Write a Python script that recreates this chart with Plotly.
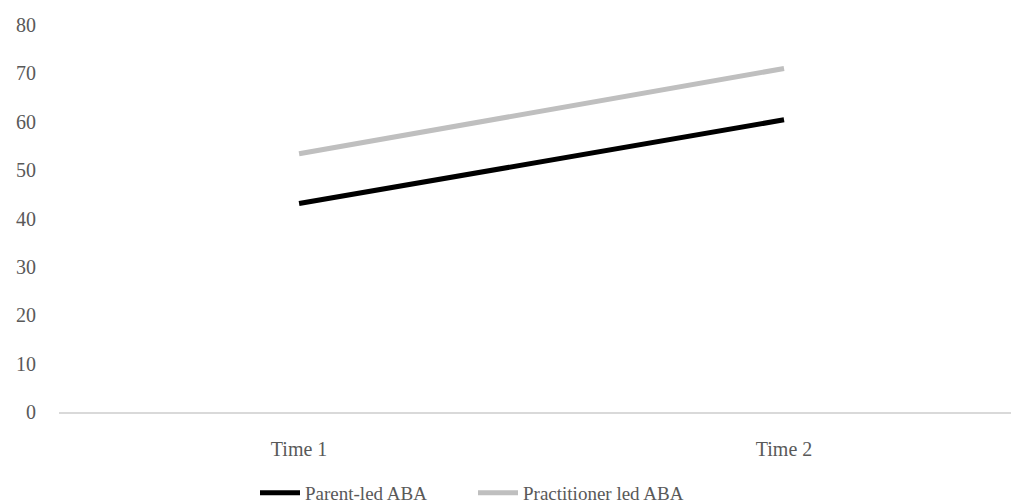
import plotly.graph_objects as go

# Scores at the two measurement points
times = ["Time 1", "Time 2"]
parent_led = [43.1, 60.4]
practitioner_led = [53.4, 71.0]

y_ticks = [0, 10, 20, 30, 40, 50, 60, 70, 80]

font_family = "Liberation Serif"
text_color = "#595959"

fig = go.Figure()
fig.add_trace(go.Scatter(
    x=times, y=parent_led, mode="lines", name="Parent-led ABA",
    line=dict(color="#000000", width=5),
))
fig.add_trace(go.Scatter(
    x=times, y=practitioner_led, mode="lines", name="Practitioner led ABA",
    line=dict(color="#bfbfbf", width=5),
))

fig.update_layout(
    width=1011, height=503,
    margin=dict(l=59, r=0, t=25, b=90.5),
    paper_bgcolor="white", plot_bgcolor="white",
    font=dict(family=font_family, size=20, color=text_color),
    showlegend=True,
    legend=dict(
        orientation="h", xref="container", yref="container",
        x=255 / 1011, xanchor="left", y=0.02, yanchor="middle",
        font=dict(family=font_family, size=19, color=text_color),
        itemwidth=40, tracegroupgap=0,
        entrywidth=163, entrywidthmode="pixels",
    ),
)
fig.update_xaxes(
    type="category", range=[-0.495, 1.468],
    showgrid=False, showline=True, linecolor="#d9d9d9", linewidth=2,
    ticks="", ticklabelstandoff=18, zeroline=False,
)
fig.update_yaxes(
    range=[0, 80], tickvals=y_ticks, showgrid=False, zeroline=False,
    showline=False, ticks="", ticklabelstandoff=22,
)

fig.write_html("out.html")
